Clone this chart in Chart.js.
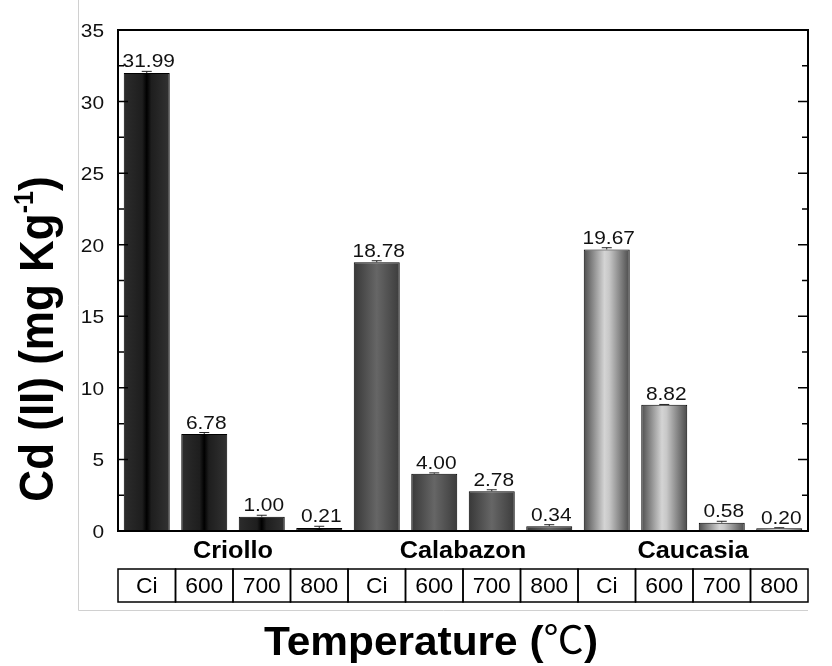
<!DOCTYPE html>
<html>
<head>
<meta charset="utf-8">
<title>Cd (II) by temperature</title>
<script src="https://cdn.jsdelivr.net/npm/chart.js@4.4.1/dist/chart.umd.min.js"></script>
<style>
  html, body { margin: 0; padding: 0; background: #fff; }
  #wrap { width: 832px; height: 666px; position: relative; }
</style>
</head>
<body>
<div id="wrap"><canvas id="cdChart" width="832" height="666"></canvas></div>
<script>
/* ---- data ---- */
const groups     = ['Criollo', 'Calabazon', 'Caucasia'];
const temps      = ['Ci', '600', '700', '800'];
const criollo    = [31.99, 6.78, 1.00, 0.21];
const calabazon  = [18.78, 4.00, 2.78, 0.34];
const caucasia   = [19.67, 8.82, 0.58, 0.20];
const errors     = [0.12, 0.10, 0.10, 0.12, 0.10, 0.06, 0.10, 0.10, 0.12, 0.02, 0.10, 0.03];
const yTicks     = [0, 5, 10, 15, 20, 25, 30, 35];

const values = [...criollo, ...calabazon, ...caucasia];
const labels = [];
groups.forEach(g => temps.forEach(t => labels.push(g + ' ' + t)));

const FONT = '"Liberation Sans", Arial, sans-serif';
const STRETCH = 1.1;   // the source figure is a little wider than tall

/* cylinder-like gradients, one per group */
const groupStops = [
  [[0, '#2c2c2c'], [0.4, '#1e1e1e'], [0.5, '#000000'], [0.6, '#1e1e1e'], [1, '#323232']],
  [[0, '#383838'], [0.5, '#666666'], [1, '#3c3c3c']],
  [[0, '#4e4e4e'], [0.45, '#d4d4d4'], [0.55, '#c8c8c8'], [1, '#4a4a4a']]
];

function barFill(ctx) {
  const chart = ctx.chart;
  const xs = chart.scales.x;
  if (!xs || !chart.chartArea) return '#444';
  const cx = xs.getPixelForValue(ctx.dataIndex);
  const half = (xs.width / labels.length) * 0.8 / 2;
  const g = chart.ctx.createLinearGradient(cx - half, 0, cx + half, 0);
  groupStops[Math.floor(ctx.dataIndex / temps.length)].forEach(s => g.addColorStop(s[0], s[1]));
  return g;
}

/* text drawn slightly stretched horizontally, like the source */
function stretchText(ctx, text, x, y, font, align, sx) {
  ctx.save();
  ctx.font = font;
  ctx.textAlign = align || 'center';
  ctx.translate(x, y);
  ctx.scale(sx || STRETCH, 1);
  ctx.fillText(text, 0, 0);
  ctx.restore();
}

/* ---- extras: frame, inward ticks, error bars, value labels, table ---- */
const extrasPlugin = {
  id: 'extras',
  afterDatasetsDraw(chart) {
    const { ctx, chartArea: a, scales: { x, y } } = chart;
    const meta = chart.getDatasetMeta(0);
    ctx.save();
    ctx.fillStyle = '#111';
    ctx.textBaseline = 'alphabetic';

    // error bars + value labels
    ctx.strokeStyle = '#222';
    ctx.lineWidth = 1;
    meta.data.forEach((bar, i) => {
      const top = y.getPixelForValue(values[i] + errors[i]);
      ctx.beginPath();
      ctx.moveTo(bar.x, bar.y);
      ctx.lineTo(bar.x, top);
      ctx.moveTo(bar.x - 5, top);
      ctx.lineTo(bar.x + 5, top);
      ctx.stroke();
      stretchText(ctx, values[i].toFixed(2), bar.x + 2, Math.min(top, bar.y) - 4, '19px ' + FONT);
    });

    // y tick labels
    yTicks.forEach(v => {
      stretchText(ctx, String(v), a.left - 14, y.getPixelForValue(v) + 7, '19px ' + FONT, 'right');
    });

    // frame
    ctx.strokeStyle = '#000';
    ctx.lineWidth = 2;
    ctx.strokeRect(a.left, a.top, a.right - a.left, a.bottom - a.top);

    // inward ticks on left and right
    ctx.lineWidth = 1.5;
    for (let v = 0; v <= 35; v += 2.5) {
      const py = y.getPixelForValue(v);
      const len = v % 5 === 0 ? 10 : 6;
      ctx.beginPath();
      ctx.moveTo(a.left, py); ctx.lineTo(a.left + len, py);
      ctx.moveTo(a.right, py); ctx.lineTo(a.right - len, py);
      ctx.stroke();
    }

    // group names
    const step = (a.right - a.left) / labels.length;
    ctx.fillStyle = '#000';
    groups.forEach((g, gi) => {
      const cx = a.left + step * (gi * temps.length + temps.length / 2);
      stretchText(ctx, g, cx, 558, 'bold 23px ' + FONT);
    });

    // temperature table
    const tTop = 569, tBot = 602;
    ctx.lineWidth = 1.5;
    labels.forEach((l, i) => {
      const x0 = a.left + step * i;
      ctx.strokeRect(x0, tTop, step, tBot - tTop);
      stretchText(ctx, temps[i % temps.length], x0 + step / 2, 593, '22px ' + FONT, 'center', 1.04);
    });

    // x title: bold text, the degree sign in a lighter CJK face
    const tf = 'bold 40px ' + FONT;
    const cf = '38px "Noto Sans CJK SC", ' + FONT;
    ctx.font = tf;
    const p1 = ctx.measureText('Temperature (').width;
    const p3 = ctx.measureText(')').width;
    ctx.font = cf;
    const p2 = ctx.measureText('\u2103').width;
    const sxT = 1.06;
    let tx = 431 - (p1 + p2 + p3) * sxT / 2;
    stretchText(ctx, 'Temperature (', tx, 655, tf, 'left', sxT);
    tx += p1 * sxT;
    stretchText(ctx, '\u2103', tx, 653, cf, 'left', sxT);
    tx += p2 * sxT;
    stretchText(ctx, ')', tx, 655, tf, 'left', sxT);

    // y title with superscript (rotated; stretch applies across the glyphs)
    ctx.save();
    ctx.translate(53, 339);
    ctx.rotate(-Math.PI / 2);
    ctx.scale(1, STRETCH);
    const main = 'Cd (II) (mg Kg';
    ctx.font = 'bold 44px ' + FONT;
    const w1 = ctx.measureText(main).width;
    const w3 = ctx.measureText(')').width;
    ctx.font = 'bold 25px ' + FONT;
    const w2 = ctx.measureText('-1').width;
    let sx = -(w1 + w2 + w3) / 2;
    ctx.textAlign = 'left';
    ctx.font = 'bold 44px ' + FONT;
    ctx.fillText(main, sx, 0);
    sx += w1;
    ctx.font = 'bold 25px ' + FONT;
    ctx.fillText('-1', sx, -18);
    sx += w2;
    ctx.font = 'bold 44px ' + FONT;
    ctx.fillText(')', sx, 0);
    ctx.restore();

    // faint figure border
    ctx.strokeStyle = '#d0d0d0';
    ctx.lineWidth = 1;
    ctx.beginPath();
    ctx.moveTo(78.5, 0); ctx.lineTo(78.5, 610.5); ctx.lineTo(808, 610.5);
    ctx.stroke();
    ctx.restore();
  }
};

new Chart(document.getElementById('cdChart'), {
  type: 'bar',
  data: {
    labels: labels,
    datasets: [{
      data: values,
      backgroundColor: barFill,
      borderColor: '#000',
      borderWidth: 1,
      barPercentage: 0.8,
      categoryPercentage: 1.0
    }]
  },
  options: {
    responsive: false,
    animation: false,
    layout: { padding: { left: 0, top: 30, right: 24, bottom: 135 } },
    plugins: { legend: { display: false }, tooltip: { enabled: false } },
    scales: {
      x: {
        grid: { display: false, drawTicks: false },
        border: { display: false },
        ticks: { display: false }
      },
      y: {
        min: 0, max: 35,
        afterFit: s => { s.width = 118; },
        afterBuildTicks: s => { s.ticks = yTicks.map(v => ({ value: v })); },
        grid: { display: false, drawTicks: false },
        border: { display: false },
        ticks: { display: false }
      }
    }
  },
  plugins: [extrasPlugin]
});
</script>
</body>
</html>
